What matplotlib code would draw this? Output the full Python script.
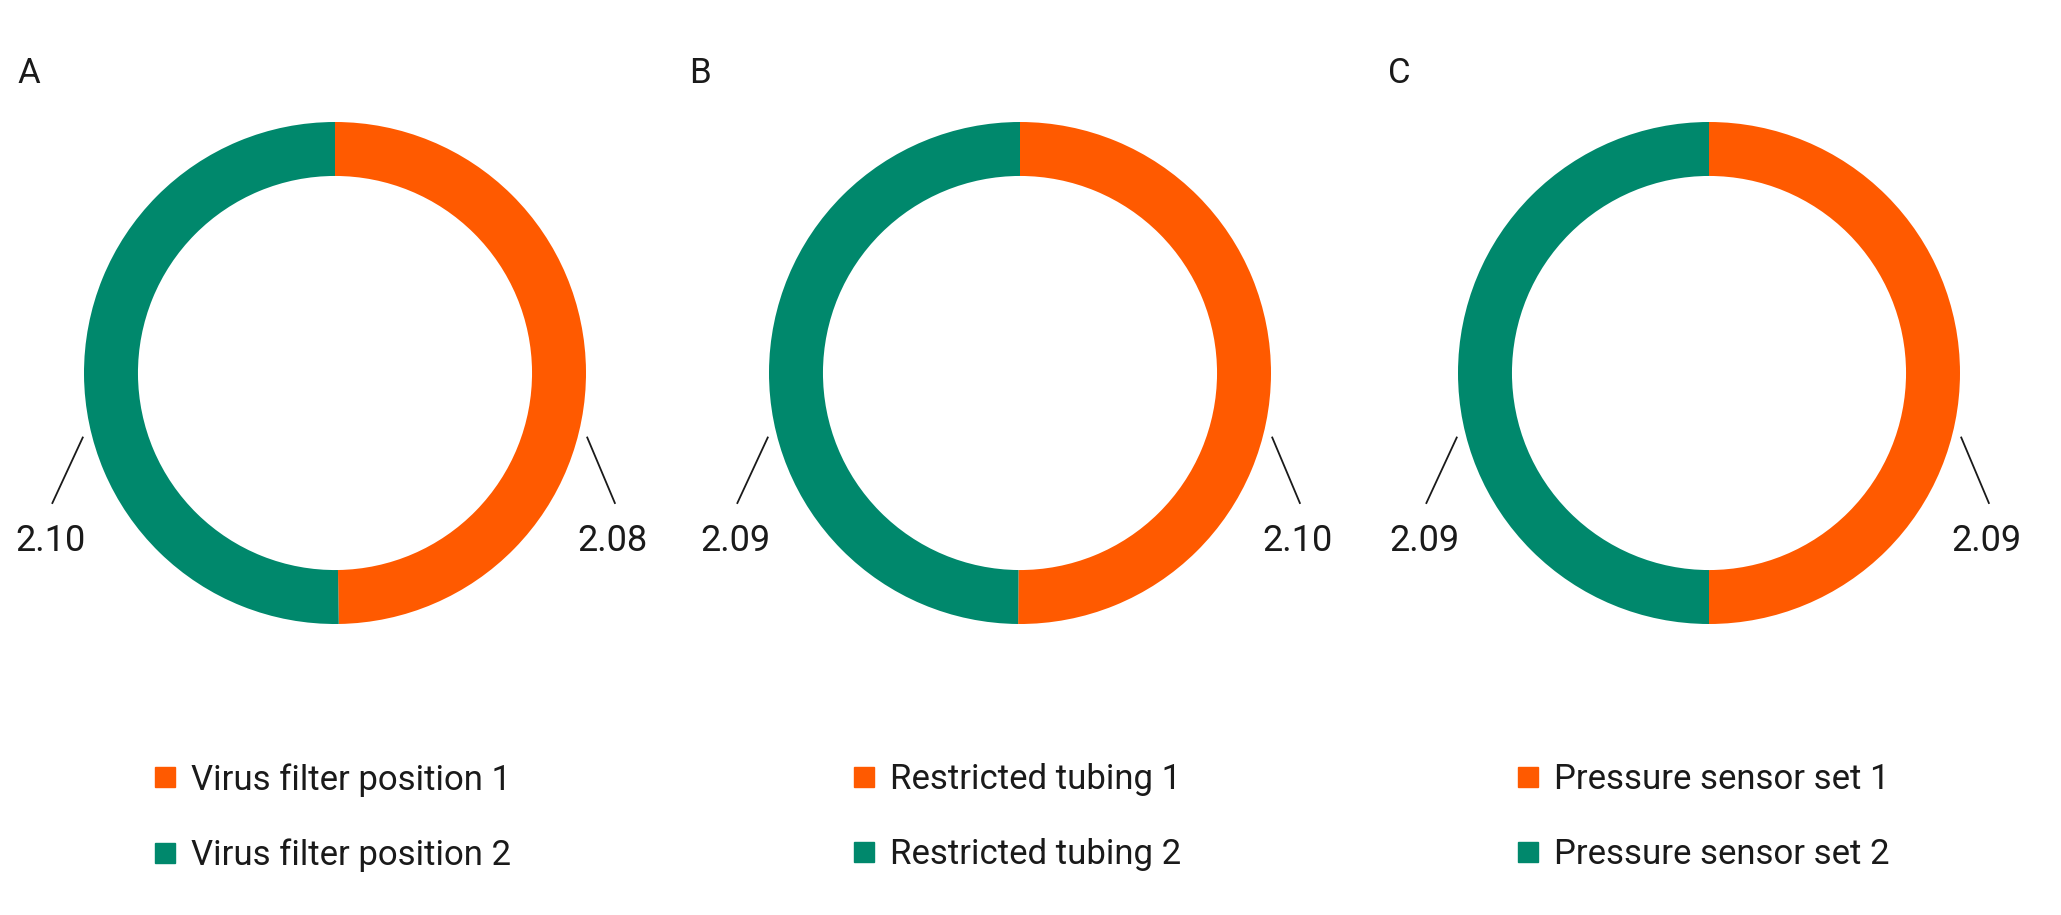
import matplotlib.pyplot as plt
from matplotlib.lines import Line2D

plt.rcParams['font.family'] = ['Roboto', 'DejaVu Sans']

# data
panels = ['A', 'B', 'C']
series_1 = [2.08, 2.10, 2.09]   # orange
series_2 = [2.10, 2.09, 2.09]   # green
names_1 = ['Virus filter position 1', 'Restricted tubing 1', 'Pressure sensor set 1']
names_2 = ['Virus filter position 2', 'Restricted tubing 2', 'Pressure sensor set 2']

orange = '#FF5A00'
green = '#00886C'
txt = '#1a1a1a'

W, H = 2061, 915
fig = plt.figure(figsize=(W / 100, H / 100), dpi=100)

centers_x = [335, 1020, 1709]   # pixel centre of each ring
letter_x = [17, 689, 1388]
legend_x = [153, 852, 1516]
cy = 373
r = 251
lim = 1.35

for i in range(3):
    cx = centers_x[i]
    half = lim * r
    ax = fig.add_axes([(cx - half) / W, (H - cy - half) / H, 2 * half / W, 2 * half / H])
    ax.pie([series_1[i], series_2[i]], colors=[orange, green], startangle=90,
           counterclock=False, radius=1,
           wedgeprops=dict(width=0.215, linewidth=0))
    ax.set_xlim(-lim, lim)
    ax.set_ylim(-lim, lim)
    ax.set_aspect('equal')
    ax.axis('off')

    # leader lines and value labels
    ax.plot([1.005, 1.115], [-0.257, -0.518], color=txt, lw=1.3)
    ax.text(1.105, -0.709, f'{series_1[i]:.2f}', ha='center', va='baseline',
            fontsize=26, color=txt)
    ax.plot([-1.005, -1.126], [-0.257, -0.518], color=txt, lw=1.3)
    ax.text(-1.135, -0.709, f'{series_2[i]:.2f}', ha='center', va='baseline',
            fontsize=26, color=txt)

    # panel letter
    fig.text(letter_x[i] / W, 1 - 83 / H, panels[i], fontsize=25, color=txt,
             va='baseline', ha='left')

    # legend
    handles = [Line2D([], [], marker='s', ls='', color=orange, markersize=14),
               Line2D([], [], marker='s', ls='', color=green, markersize=14)]
    fig.legend(handles, [names_1[i], names_2[i]], loc='upper left',
               bbox_to_anchor=(legend_x[i] / W, 1 - 763 / H), frameon=False,
               fontsize=25, labelspacing=1.2, handletextpad=0.4,
               handlelength=0.7, labelcolor=txt, borderpad=0, borderaxespad=0)

fig.savefig('out.png', dpi=100, facecolor='white')
